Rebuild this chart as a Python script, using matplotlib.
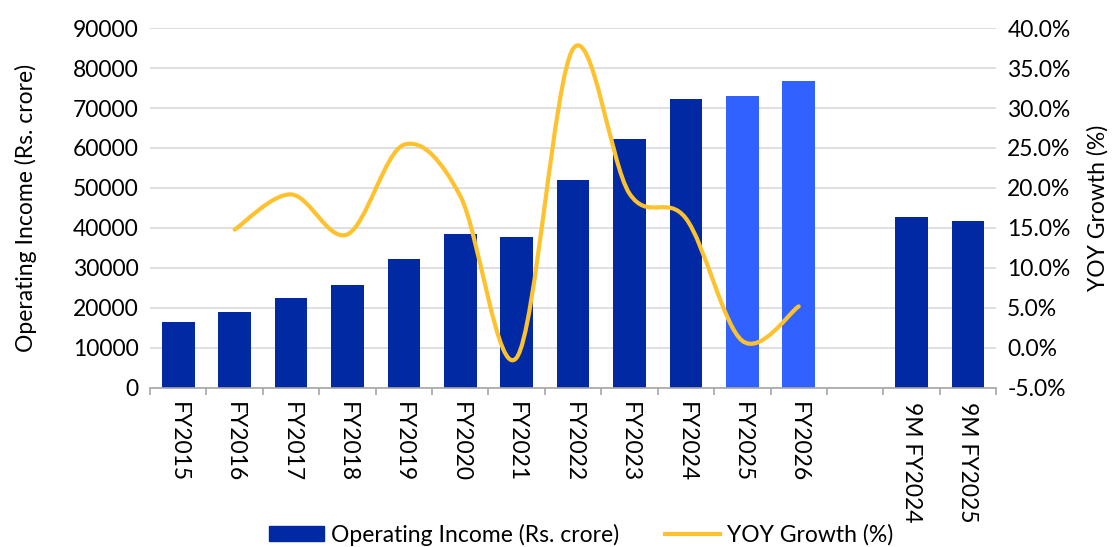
import numpy as np
import matplotlib
matplotlib.use("Agg")
import matplotlib.pyplot as plt
from matplotlib.path import Path
from matplotlib.patches import PathPatch, Patch
from matplotlib.lines import Line2D

plt.rcParams['font.family'] = ['Lato', 'DejaVu Sans']

categories = ['FY2015', 'FY2016', 'FY2017', 'FY2018', 'FY2019', 'FY2020', 'FY2021',
              'FY2022', 'FY2023', 'FY2024', 'FY2025', 'FY2026', '', '9M FY2024', '9M FY2025']
income = [16400, 18900, 22600, 25700, 32200, 38400, 37800, 52000, 62300, 72200,
          73000, 76800, np.nan, 42800, 41800]
estimate = [False] * 10 + [True, True, False, False, False]
yoy = [np.nan, 14.8, 19.2, 14.2, 25.4, 19.0, -1.2, 37.4, 19.3, 16.2, 0.9, 5.2,
       np.nan, np.nan, np.nan]

dark = '#0029A3'
light = '#3162FF'
gold = '#FEC22F'
grey = '#D9D9D9'
fs = 16.5

fig = plt.figure(figsize=(11.13, 5.47), dpi=100)
ax = fig.add_axes([0.1348, 0.2907, 0.7602, 0.6581])
ax2 = ax.twinx()

x = np.arange(len(categories))
cols = [light if e else dark for e in estimate]
ax.bar(x, income, width=0.58, color=cols, zorder=2)

ax.set_xlim(-0.5, len(categories) - 0.5)
ax.set_ylim(0, 90000)
ax.set_yticks(np.arange(0, 90001, 10000))
ax.yaxis.grid(True, color=grey, linewidth=1.2, zorder=0)
ax.set_axisbelow(True)
for s in ['left', 'right', 'top']:
    ax.spines[s].set_visible(False)
    ax2.spines[s].set_visible(False)
ax2.spines['bottom'].set_visible(False)
ax.spines['bottom'].set_color('#A6A6A6')
ax.spines['bottom'].set_linewidth(1.2)

ax.set_xticks(x)
ax.set_xticklabels(categories, rotation=270, fontsize=fs)
ax.set_xticks(np.arange(-0.5, len(categories)), minor=True)
ax.tick_params(axis='x', which='major', length=0, pad=10)
ax.tick_params(axis='x', which='minor', length=5, color='#A6A6A6', width=1.2)
ax.tick_params(axis='y', length=0, labelsize=fs, pad=8)
ax.set_ylabel('Operating Income (Rs. crore)', fontsize=fs, labelpad=26)

ax2.set_ylim(-5, 40)
ax2.set_yticks(np.arange(-5, 40.1, 5))
ax2.set_yticklabels(['{:.1f}%'.format(v) for v in np.arange(-5, 40.1, 5)])
ax2.tick_params(axis='y', length=0, labelsize=fs, pad=8)
ax2.set_ylabel('YOY Growth (%)', fontsize=fs, labelpad=12)

# smoothed line like Excel (Catmull-Rom style bezier through the points)
pts = [(xi, yi) for xi, yi in zip(x, yoy) if not np.isnan(yi)]
pts = np.array(pts, dtype=float)
verts = [tuple(pts[0])]
codes = [Path.MOVETO]
n = len(pts)
for i in range(n - 1):
    p0 = pts[i - 1] if i > 0 else pts[i]
    p1 = pts[i]
    p2 = pts[i + 1]
    p3 = pts[i + 2] if i + 2 < n else pts[i + 1]
    c1 = p1 + (p2 - p0) / 6.0
    c2 = p2 - (p3 - p1) / 6.0
    verts += [tuple(c1), tuple(c2), tuple(p2)]
    codes += [Path.CURVE4] * 3
ax2.add_patch(PathPatch(Path(verts, codes), facecolor='none', edgecolor=gold,
                        linewidth=3, capstyle='round', zorder=3))

handles = [Patch(color=dark), Line2D([0], [0], color=gold, linewidth=3)]
fig.legend(handles, ['Operating Income (Rs. crore)', 'YOY Growth (%)'],
           loc='lower center', bbox_to_anchor=(0.522, -0.035), ncol=2, frameon=False,
           fontsize=fs, handlelength=2.4, handleheight=0.6, columnspacing=2.0,
           handletextpad=0.3)

fig.savefig('out.png', dpi=100)
